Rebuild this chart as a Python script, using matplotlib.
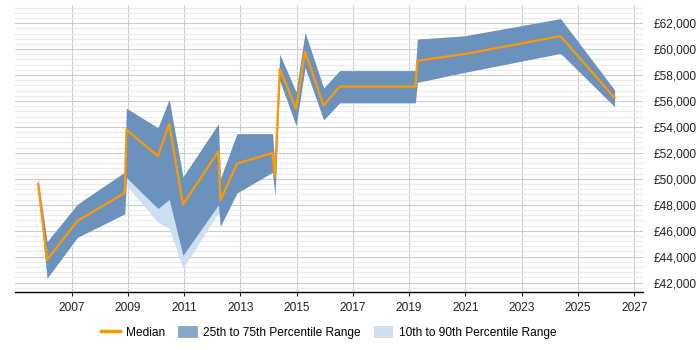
import matplotlib
matplotlib.use("Agg")
import matplotlib.pyplot as plt
from matplotlib.lines import Line2D
from matplotlib.patches import Patch
from matplotlib.ticker import MultipleLocator, FuncFormatter

dates = [2005.81, 2006.13, 2007.21, 2008.89, 2008.95, 2010.07, 2010.47, 2010.96,
         2012.22, 2012.29, 2012.88, 2014.14, 2014.23, 2014.40, 2014.98, 2015.30,
         2015.96, 2016.53, 2019.22, 2019.29, 2020.97, 2024.38, 2026.30]
median = [49580, 43750, 46760, 48910, 53780, 51750, 54240, 48020,
          52110, 48350, 51170, 51990, 50190, 58470, 55400, 59800,
          55650, 57110, 57110, 59100, 59620, 61000, 56240]
p75 = [49900, 45150, 48040, 50520, 55440, 53930, 56110, 50140,
       54240, 50010, 53480, 53480, 50900, 59600, 56700, 61280,
       57000, 58340, 58340, 60770, 61020, 62350, 56850]
p25 = [49300, 42340, 45490, 47300, 50100, 47710, 48410, 44100,
       48000, 46350, 48910, 50500, 48700, 57570, 54110, 58590,
       54550, 55860, 55860, 57440, 58210, 59670, 55570]
p90 = [50400, 45150, 48040, 50520, 55440, 53930, 56110, 50140,
       54240, 50010, 53480, 53480, 50900, 59600, 56700, 61280,
       57000, 58340, 58340, 60770, 61020, 62350, 56850]
p10 = [49200, 42340, 45490, 47300, 49500, 46650, 46180, 43080,
       47400, 46350, 48910, 50500, 48700, 57570, 54110, 58590,
       54550, 55860, 55860, 57440, 58210, 59670, 55570]
xticks = list(range(2007, 2028, 2))

FS = 8.6
plt.rcParams['font.family'] = ['Liberation Sans', 'DejaVu Sans']

fig = plt.figure(figsize=(7, 3.5), dpi=100)
ax = fig.add_axes([15/700, 1-292.3/350, (642.7-15)/700, (292.3-5)/350])

ax.fill_between(dates, p10, p90, color='#cddff0', lw=0, zorder=2)
ax.fill_between(dates, p25, p75, color='#6b92bc', lw=0, zorder=3)
ax.plot(dates, median, color='#ff9900', lw=1.6, zorder=4)

ax.set_xlim(2004.99, 2027.3)
ax.set_ylim(41250, 63400)

ax.set_xticks(xticks)
ax.set_xticklabels([str(x) for x in xticks])
ax.yaxis.set_major_locator(MultipleLocator(2000))
ax.yaxis.set_minor_locator(MultipleLocator(400))
ax.yaxis.set_major_formatter(FuncFormatter(lambda v, p: "£{:,.0f}".format(v)))
ax.yaxis.tick_right()
ax.tick_params(axis='y', which='both', length=0, pad=8, labelsize=FS, colors='#222222')
ax.tick_params(axis='x', length=3, width=0.8, labelsize=FS, colors='#222222', pad=4)

ax.grid(axis='y', which='minor', color='#ebebeb', lw=0.8, zorder=0)
ax.grid(axis='y', which='major', color='#cccccc', lw=0.8, zorder=0)
ax.grid(axis='x', which='major', color='#cccccc', lw=0.8, zorder=0)
ax.set_axisbelow(True)

for s in ['top', 'left', 'right']:
    ax.spines[s].set_visible(False)
ax.spines['bottom'].set_color('#000000')
ax.spines['bottom'].set_linewidth(1.0)

handles = [Line2D([], [], color='#ff9900', lw=2.5),
           Patch(facecolor='#88a6c7', edgecolor='none'),
           Patch(facecolor='#cfdfef', edgecolor='none')]
labels = ['Median', '25th to 75th Percentile Range', '10th to 90th Percentile Range']
fig.legend(handles, labels, loc='center', bbox_to_anchor=(0.47, 0.049), ncol=3,
           frameon=False, fontsize=FS, handlelength=1.6, handleheight=1.1,
           handletextpad=0.5, columnspacing=1.1)

fig.savefig('out.png', dpi=100)
